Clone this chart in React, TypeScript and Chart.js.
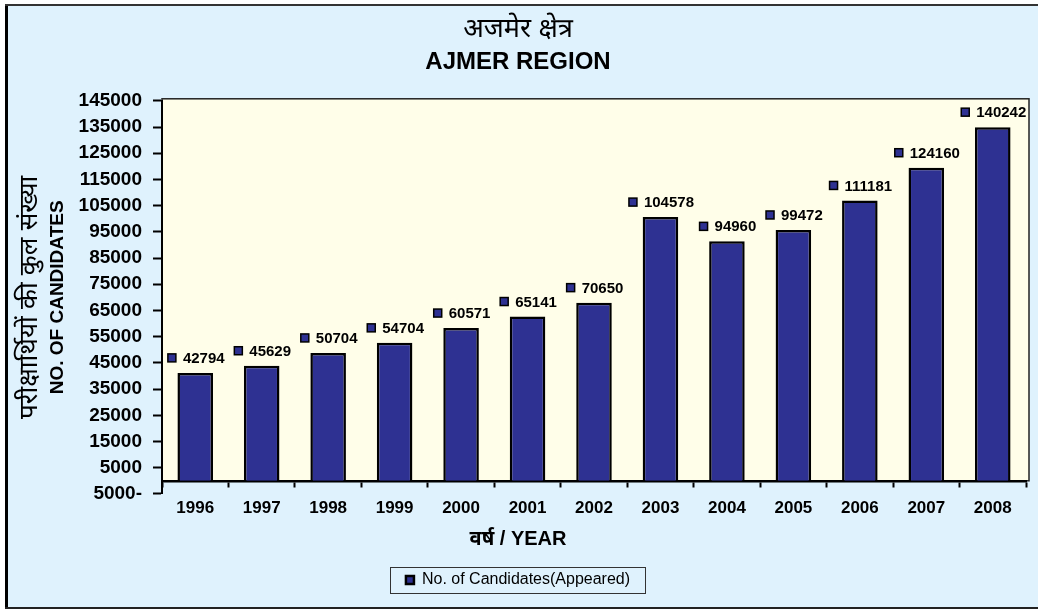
import React, { useEffect, useRef } from "react";
import { Chart, registerables } from "chart.js";

Chart.register(...registerables);

const years = ["1996", "1997", "1998", "1999", "2000", "2001", "2002", "2003", "2004", "2005", "2006", "2007", "2008"];
const candidates = [42794, 45629, 50704, 54704, 60571, 65141, 70650, 104578, 94960, 99472, 111181, 124160, 140242];
const yTickLabels = [
  "5000-", "5000", "15000", "25000", "35000", "45000", "55000", "65000",
  "75000", "85000", "95000", "105000", "115000", "125000", "135000", "145000",
];
const titleHindi = "अजमेर क्षेत्र";
const titleEnglish = "AJMER REGION";
const yTitleHindi = "परीक्षार्थियों की कुल संख्या";
const yTitleEnglish = "NO. OF CANDIDATES";
const xTitleText = "वर्ष / YEAR";
const seriesLabel = "No. of Candidates(Appeared)";

const FONT = '"Liberation Sans", Arial, "Noto Sans Devanagari", "Lohit Devanagari", FreeSans, sans-serif';
const NAVY = "#2E3192";
const PAGE_BG = "#DFF2FD";
const PLOT_BG = "#FFFEE9";

const framePlugin = {
  id: "frame",
  beforeDraw(chart: any) {
    const { ctx, width, height, chartArea, scales } = chart;
    ctx.save();
    ctx.fillStyle = "#ffffff";
    ctx.fillRect(0, 0, width, height);
    ctx.fillStyle = PAGE_BG;
    ctx.fillRect(7, 5, width - 7, height - 8);
    ctx.fillStyle = "#000";
    ctx.fillRect(5, 4, 3, height - 5);
    ctx.fillStyle = "#333";
    ctx.fillRect(5, 4, width - 5, 2);
    ctx.fillStyle = "#222";
    ctx.fillRect(5, height - 3, width - 5, 2);
    // plot area
    const y0 = scales.y.getPixelForValue(0);
    const left = chartArea.left;
    const top = chartArea.top - 2;
    const right = chartArea.right + 3;
    ctx.fillStyle = PLOT_BG;
    ctx.fillRect(left, top, right - left, y0 - top);
    ctx.strokeStyle = "#222";
    ctx.lineWidth = 1.5;
    ctx.strokeRect(left, top, right - left, y0 - top);
    ctx.restore();
  },
  afterDraw(chart: any) {
    const legend = chart.legend;
    if (!legend || !legend.legendHitBoxes || !legend.legendHitBoxes.length) return;
    const hb = legend.legendHitBoxes[0];
    const { ctx } = chart;
    ctx.save();
    ctx.strokeStyle = "#333";
    ctx.lineWidth = 1;
    const x = Math.round(hb.left - 16) + 0.5;
    const y = Math.round(hb.top + hb.height / 2 - 13) + 0.5;
    const w = Math.round(hb.width + 31);
    ctx.strokeRect(x, y, w, 26);
    ctx.restore();
  },
};

const dataLabelPlugin = {
  id: "dataLabels",
  afterDatasetsDraw(chart: any) {
    const { ctx } = chart;
    const meta = chart.getDatasetMeta(0);
    const data = chart.data.datasets[0].data as number[];
    ctx.save();
    ctx.font = `bold 15px ${FONT}`;
    ctx.textBaseline = "middle";
    ctx.textAlign = "left";
    meta.data.forEach((bar: any, i: number) => {
      const text = String(data[i]);
      const tw = ctx.measureText(text).width;
      const sq = 8;
      const gap = 7;
      const total = sq + gap + tw;
      const startX = bar.x - total / 2 + 1;
      const cy = bar.y - 15;
      ctx.fillStyle = NAVY;
      ctx.fillRect(startX, cy - sq / 2, sq, sq);
      ctx.strokeStyle = "#000";
      ctx.lineWidth = 1.5;
      ctx.strokeRect(startX, cy - sq / 2, sq, sq);
      ctx.fillStyle = "#000";
      ctx.fillText(text, startX + sq + gap, cy + 1);
    });
    ctx.restore();
  },
};

export default function App() {
  const ref = useRef<HTMLCanvasElement | null>(null);

  useEffect(() => {
    if (!ref.current) return;
    const chart = new Chart(ref.current, {
      type: "bar",
      data: {
        labels: years,
        datasets: [
          {
            label: seriesLabel,
            data: candidates,
            xAxisID: "x",
            yAxisID: "yBar",
            backgroundColor: NAVY,
            borderColor: "#000",
            borderWidth: 2.5,
            barPercentage: 0.535,
            categoryPercentage: 1,
          },
        ],
      },
      options: {
        animation: false,
        responsive: false,
        events: [],
        layout: { padding: { top: 4, left: 10, right: 12, bottom: 12 } },
        plugins: {
          title: {
            display: true,
            text: titleHindi,
            color: "#000",
            font: { family: FONT, size: 27, weight: "normal" },
            padding: { top: 9.8, bottom: 0 },
          },
          subtitle: {
            display: true,
            text: titleEnglish,
            color: "#000",
            font: { family: FONT, size: 24, weight: "bold" },
            padding: { top: 1.4, bottom: 24.4 },
          },
          legend: {
            display: true,
            position: "bottom",
            labels: {
              usePointStyle: true,
              pointStyle: "rect",
              boxWidth: 8,
              boxHeight: 8,
              padding: 10,
              color: "#000",
              font: { family: FONT, size: 16 },
            },
          },
          tooltip: { enabled: false },
        },
        scales: {
          x: {
            type: "category",
            axis: "x",
            position: { y: 0 },
            offset: true,
            grid: {
              display: true,
              drawOnChartArea: false,
              drawTicks: true,
              tickLength: 5,
              tickWidth: 2,
              tickColor: "#000",
              offset: true,
            },
            border: { display: true, color: "#000", width: 2.5 },
            ticks: {
              color: "#000",
              font: { family: FONT, size: 17, weight: "bold" },
              padding: 12,
              maxRotation: 0,
              autoSkip: false,
            },
          },
          xTitle: {
            type: "category",
            axis: "x",
            position: "bottom",
            fullSize: true,
            display: true,
            grid: { display: false, drawTicks: false, tickLength: 0 },
            border: { display: false },
            ticks: { display: false },
            title: {
              display: true,
              text: xTitleText,
              color: "#000",
              font: { family: FONT, size: 20, weight: "bold" },
              padding: { top: 34, bottom: 10.1 },
            },
          },
          y: {
            type: "linear",
            axis: "y",
            position: "left",
            weight: 0,
            min: -5000,
            max: 145000,
            ticks: {
              stepSize: 10000,
              color: "#000",
              padding: 11,
              font: { family: FONT, size: 19, weight: "bold" },
              callback: (_v: any, i: number) => yTickLabels[i],
            },
            grid: {
              display: true,
              drawOnChartArea: false,
              drawTicks: true,
              tickLength: 9,
              tickWidth: 2,
              tickColor: "#000",
            },
            border: { display: true, color: "#000", width: 2 },
            title: {
              display: true,
              text: yTitleEnglish,
              color: "#000",
              font: { family: FONT, size: 19, weight: "bold" },
              padding: { top: 5.6, bottom: 0 },
            },
            afterFit: (s: any) => {
              s.width = 121;
            },
          },
          yBar: {
            type: "linear",
            axis: "y",
            position: "left",
            weight: 1,
            min: -5200,
            max: 150700,
            ticks: { display: false },
            grid: { display: false, drawTicks: false, tickLength: 0 },
            border: { display: false },
            title: {
              display: true,
              text: yTitleHindi,
              color: "#000",
              font: { family: FONT, size: 26, weight: "normal" },
              padding: { top: 4.4, bottom: 0 },
            },
            afterFit: (s: any) => {
              s.width = 31;
            },
          },
        },
      } as any,
      plugins: [framePlugin, dataLabelPlugin],
    });
    return () => chart.destroy();
  }, []);

  return (
    <div style={{ position: "absolute", left: 0, top: 0, width: 1038, height: 610 }}>
      <canvas ref={ref} width={1038} height={610} style={{ display: "block" }} />
    </div>
  );
}
